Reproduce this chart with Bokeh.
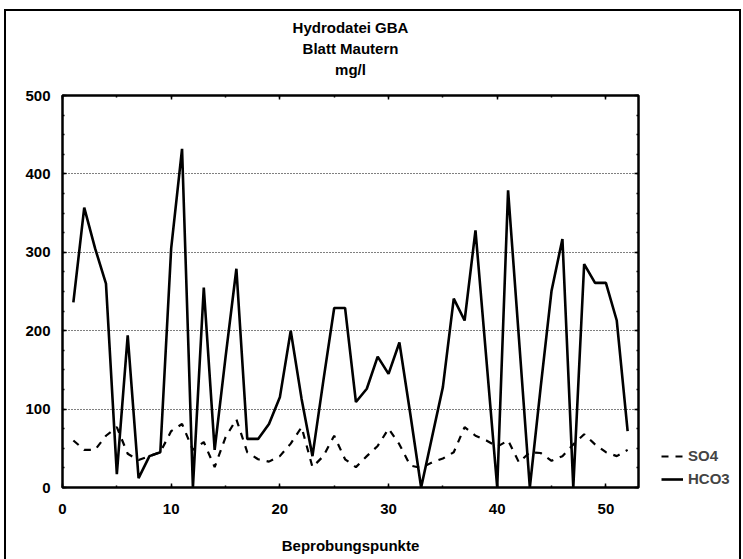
from bokeh.plotting import figure
from bokeh.layouts import row
from bokeh.models import (Range1d, Title, Legend, LegendItem, LinearAxis,
                          SingleIntervalTicker, CustomJSTickFormatter)
from bokeh.embed import file_html
from bokeh.resources import INLINE

points = list(range(1, 53))
hco3 = [236, 357, 305, 260, 17, 194, 12, 40, 45, 305,
        432, 0, 255, 48, 166, 279, 62, 62, 81, 115,
        200, 113, 40, 136, 229, 229, 109, 126, 167, 145,
        185, 94, 0, 64, 128, 241, 213, 328, 164, 0,
        379, 190, 0, 128, 251, 317, 0, 285, 261, 261,
        213, 72]
so4 = [60, 48, 48, 66, 77, 43, 35, 40, 45, 72,
       81, 48, 58, 26, 64, 87, 45, 36, 33, 40,
       56, 77, 26, 40, 66, 36, 26, 40, 53, 75,
       55, 28, 25, 32, 37, 45, 77, 66, 60, 52,
       60, 32, 45, 44, 34, 40, 55, 68, 55, 45,
       40, 48]
title_lines = ["Hydrodatei GBA", "Blatt Mautern", "mg/l"]
x_label = "Beprobungspunkte"
series_names = ["SO4", "HCO3"]

FONT = "Liberation Sans"
FS = "15px"
H = 548

p = figure(width=652, height=H, output_backend="svg", toolbar_location=None,
           x_range=Range1d(0, 53), y_range=Range1d(0, 500),
           min_border_left=56, min_border_right=20, min_border_top=84, min_border_bottom=72)
p.title = None
xax = p.below[0]
yax = p.left[0]

blank = CustomJSTickFormatter(code="return ''")
tick_style = dict(formatter=blank, axis_line_color=None,
                  major_tick_in=4, major_tick_out=0, minor_tick_in=2, minor_tick_out=0,
                  major_tick_line_width=1.5, minor_tick_line_width=1.5)
top = LinearAxis(ticker=SingleIntervalTicker(interval=10, num_minor_ticks=2),
                 major_label_standoff=0, **tick_style)
top.axis_label = title_lines[2]
top.axis_label_text_font = FONT
top.axis_label_text_font_size = FS
top.axis_label_text_font_style = "bold"
top.axis_label_text_color = "black"
top.axis_label_standoff = 18
p.add_layout(top, "above")
right = LinearAxis(ticker=SingleIntervalTicker(interval=100, num_minor_ticks=4),
                   major_label_standoff=0, **tick_style)
p.add_layout(right, "right")

for t in reversed(title_lines[:2]):
    tt = Title(text=t, align="center", text_font=FONT, text_font_size=FS,
               text_font_style="bold", text_color="black", standoff=2)
    p.add_layout(tt, "above")

p.outline_line_color = "black"
p.outline_line_width = 2.5
p.background_fill_color = "white"
p.border_fill_color = "white"

p.xgrid.grid_line_color = None
p.ygrid.grid_line_color = "black"
p.ygrid.grid_line_dash = "1 2"
p.ygrid.grid_line_width = 1.2
p.ygrid.ticker = SingleIntervalTicker(interval=100)

for ax in (xax, yax):
    ax.axis_line_color = None
    ax.major_tick_in = 4
    ax.major_tick_out = 0
    ax.minor_tick_in = 2
    ax.minor_tick_out = 0
    ax.major_tick_line_width = 1.5
    ax.minor_tick_line_width = 1.5
    ax.major_label_text_font = FONT
    ax.major_label_text_font_size = FS
    ax.major_label_text_font_style = "bold"
    ax.major_label_text_color = "black"

xax.ticker = SingleIntervalTicker(interval=10, num_minor_ticks=2)
yax.ticker = SingleIntervalTicker(interval=100, num_minor_ticks=4)
xax.axis_label = x_label
xax.axis_label_text_font = FONT
xax.axis_label_text_font_size = FS
xax.axis_label_text_font_style = "bold"
xax.axis_label_text_color = "black"
xax.axis_label_standoff = 20
xax.major_label_standoff = 16
yax.major_label_standoff = 12

p.line(points, so4, line_color="black", line_width=2.2, line_dash="7 7")
p.line(points, hco3, line_color="black", line_width=2.6)

# legend panel: same series drawn in a side figure whose range keeps them out of view
q = figure(width=81, height=H, output_backend="svg", toolbar_location=None,
           x_range=Range1d(1000, 1001), y_range=Range1d(0, 500),
           min_border_left=0, min_border_right=0, min_border_top=0, min_border_bottom=0)
q.title = None
q.axis.visible = False
q.grid.visible = False
q.outline_line_color = None
q.border_fill_color = "white"
l1 = q.line(points, so4, line_color="black", line_width=2.2, line_dash="7 7")
l2 = q.line(points, hco3, line_color="black", line_width=2.6)
legend = Legend(items=[LegendItem(label=series_names[0], renderers=[l1]),
                       LegendItem(label=series_names[1], renderers=[l2])],
                location=(3, 0), border_line_color=None, background_fill_alpha=0,
                label_text_font=FONT, label_text_font_size=FS, label_text_font_style="bold",
                glyph_width=22, spacing=6, padding=0, margin=0, label_height=16, glyph_height=16,
                label_standoff=5)
q.add_layout(legend, "center")

lay = row(p, q)
lay.styles = {"border": "2px solid black", "margin": "9px 0 0 4px"}

open("out.html", "w").write(file_html(lay, INLINE))
